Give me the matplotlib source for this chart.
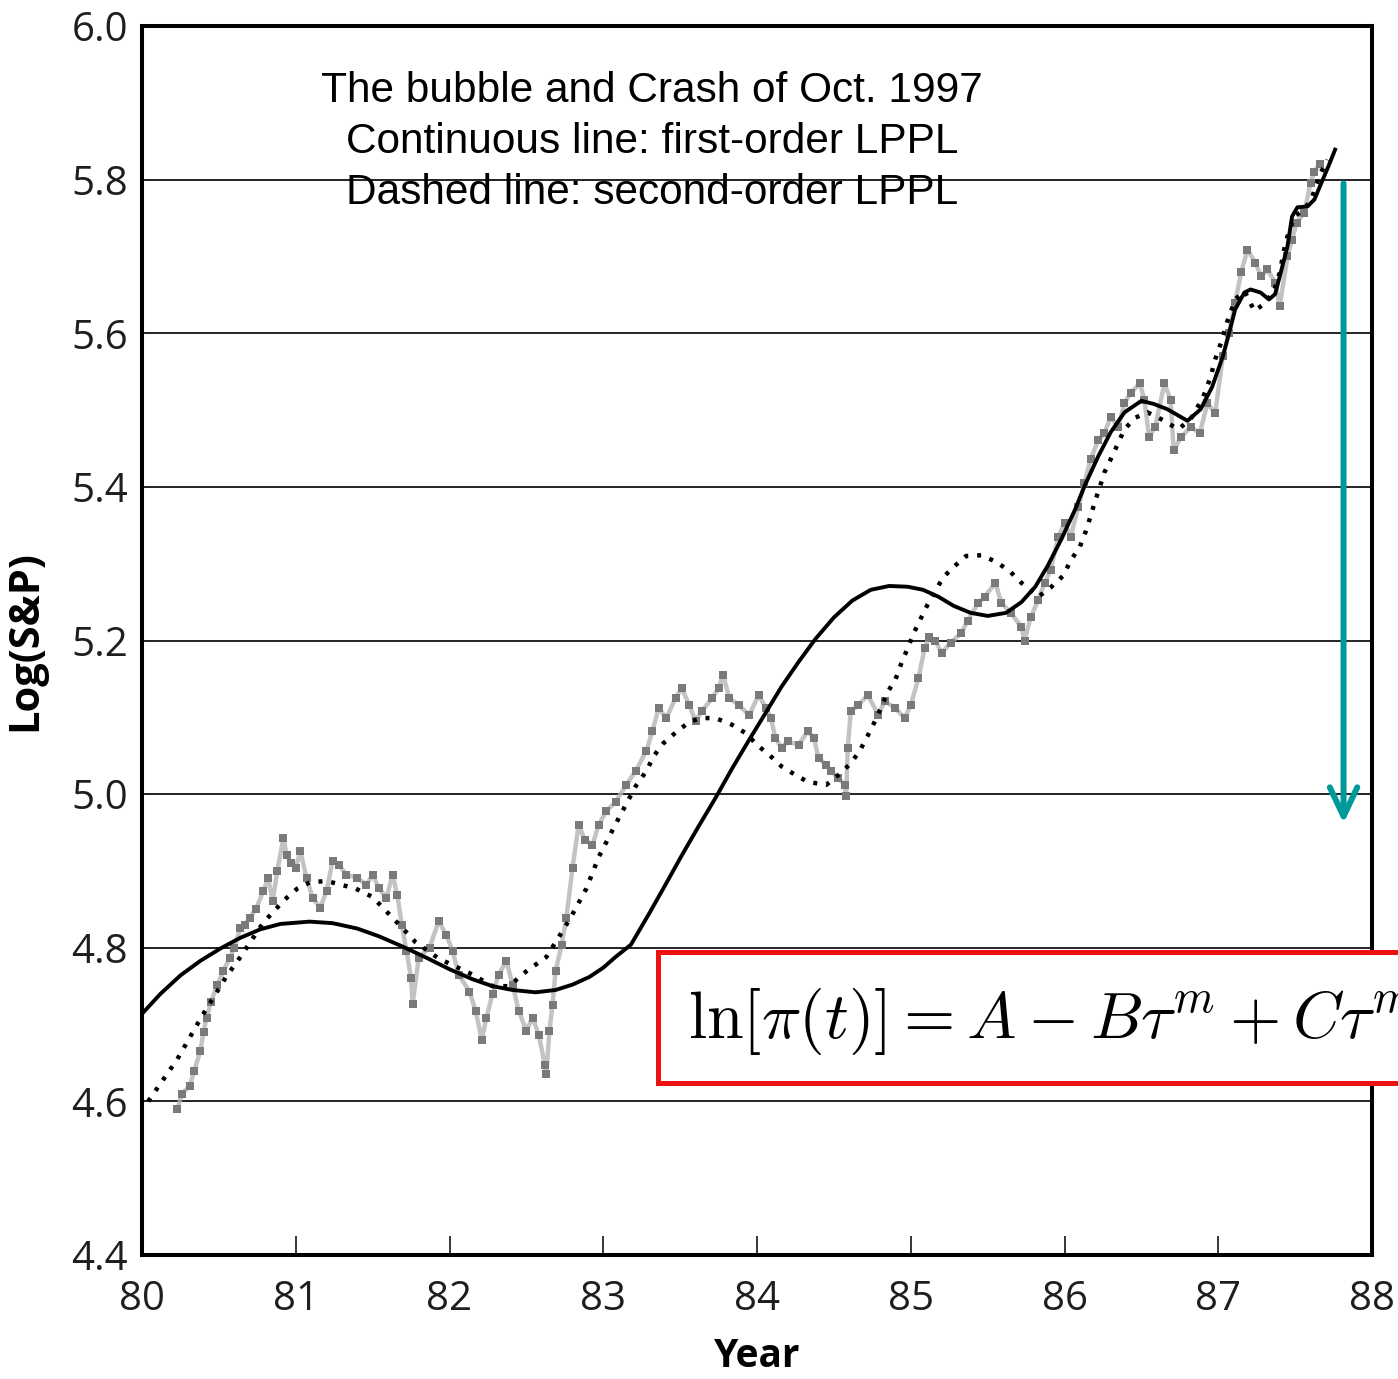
import matplotlib
matplotlib.use('Agg')
import matplotlib.pyplot as plt
from matplotlib.patches import Rectangle

# daily S&P 500 (log), read as year / value pairs
sp_year = [80.23, 80.26, 80.31, 80.34, 80.38, 80.40, 80.42, 80.45, 80.49, 80.53,
           80.57, 80.60, 80.64, 80.67, 80.70, 80.74, 80.79, 80.82, 80.85, 80.88,
           80.92, 80.94, 80.97, 81.00, 81.03, 81.07, 81.11, 81.16, 81.20, 81.24,
           81.28, 81.33, 81.40, 81.46, 81.50, 81.54, 81.59, 81.63, 81.66, 81.69,
           81.72, 81.75, 81.76, 81.80, 81.87, 81.93, 81.98, 82.02, 82.06, 82.13,
           82.17, 82.21, 82.24, 82.28, 82.32, 82.37, 82.41, 82.45, 82.50, 82.54,
           82.58, 82.62, 82.63, 82.65, 82.67, 82.69, 82.73, 82.76, 82.80, 82.84,
           82.88, 82.93, 82.97, 83.02, 83.08, 83.15, 83.21, 83.28, 83.32, 83.36,
           83.41, 83.47, 83.51, 83.56, 83.60, 83.64, 83.71, 83.75, 83.78, 83.82,
           83.88, 83.95, 84.01, 84.06, 84.09, 84.12, 84.16, 84.20, 84.27, 84.33,
           84.37, 84.40, 84.45, 84.48, 84.53, 84.57, 84.58, 84.59, 84.61, 84.66,
           84.72, 84.79, 84.83, 84.90, 84.96, 85.00, 85.05, 85.09, 85.12, 85.16,
           85.20, 85.26, 85.33, 85.37, 85.44, 85.48, 85.55, 85.59, 85.65, 85.72,
           85.74, 85.78, 85.83, 85.87, 85.91, 85.96, 86.00, 86.04, 86.09, 86.13,
           86.17, 86.22, 86.26, 86.30, 86.35, 86.39, 86.43, 86.49, 86.52, 86.55,
           86.59, 86.65, 86.69, 86.71, 86.76, 86.82, 86.88, 86.93, 86.98, 87.03,
           87.07, 87.11, 87.15, 87.19, 87.24, 87.28, 87.32, 87.37, 87.40, 87.45,
           87.48, 87.51, 87.56, 87.60, 87.625, 87.66]
sp_log = [4.590, 4.610, 4.620, 4.640, 4.666, 4.690, 4.709, 4.730, 4.752, 4.770,
          4.787, 4.800, 4.826, 4.830, 4.839, 4.850, 4.874, 4.891, 4.861, 4.900,
          4.943, 4.921, 4.910, 4.904, 4.926, 4.891, 4.865, 4.852, 4.874, 4.913,
          4.908, 4.895, 4.891, 4.882, 4.895, 4.878, 4.865, 4.895, 4.869, 4.830,
          4.796, 4.761, 4.727, 4.787, 4.800, 4.835, 4.816, 4.796, 4.765, 4.743,
          4.718, 4.680, 4.709, 4.740, 4.765, 4.783, 4.752, 4.718, 4.692, 4.709,
          4.687, 4.648, 4.635, 4.692, 4.726, 4.770, 4.804, 4.839, 4.904, 4.960,
          4.940, 4.934, 4.960, 4.978, 4.990, 5.012, 5.030, 5.056, 5.082, 5.112,
          5.099, 5.125, 5.138, 5.116, 5.095, 5.108, 5.125, 5.138, 5.155, 5.125,
          5.116, 5.103, 5.129, 5.112, 5.099, 5.073, 5.060, 5.069, 5.064, 5.082,
          5.073, 5.047, 5.038, 5.030, 5.021, 5.012, 4.997, 5.060, 5.108, 5.116,
          5.129, 5.103, 5.121, 5.112, 5.099, 5.116, 5.151, 5.190, 5.205, 5.200,
          5.184, 5.197, 5.210, 5.226, 5.249, 5.257, 5.275, 5.249, 5.236, 5.218,
          5.200, 5.230, 5.253, 5.275, 5.292, 5.335, 5.353, 5.335, 5.374, 5.405,
          5.436, 5.461, 5.470, 5.491, 5.478, 5.509, 5.522, 5.535, 5.513, 5.465,
          5.478, 5.535, 5.513, 5.448, 5.465, 5.478, 5.470, 5.509, 5.496, 5.570,
          5.600, 5.640, 5.680, 5.709, 5.692, 5.674, 5.683, 5.666, 5.635, 5.700,
          5.722, 5.744, 5.757, 5.796, 5.810, 5.820]

# first-order LPPL fit (continuous line)
fit1_year = [80.00, 80.12, 80.25, 80.38, 80.51, 80.64, 80.77, 80.90, 81.09, 81.24,
             81.40, 81.54, 81.69, 81.85, 82.00, 82.15, 82.28, 82.41, 82.56, 82.69,
             82.80, 82.91, 83.00, 83.08, 83.18, 83.30, 83.41, 83.51, 83.62, 83.73,
             83.84, 83.95, 84.06, 84.16, 84.27, 84.38, 84.50, 84.62, 84.74, 84.86,
             84.98, 85.08, 85.18, 85.28, 85.39, 85.50, 85.62, 85.72, 85.81, 85.89,
             85.98, 86.07, 86.13, 86.22, 86.30, 86.39, 86.50, 86.58, 86.67, 86.80,
             86.885, 86.96, 87.03, 87.07, 87.11, 87.17, 87.21, 87.275, 87.33, 87.37,
             87.40, 87.45, 87.48, 87.515, 87.58, 87.625, 87.665, 87.72, 87.76]
fit1_log = [4.714, 4.740, 4.764, 4.783, 4.799, 4.813, 4.824, 4.831, 4.834, 4.832,
            4.825, 4.815, 4.802, 4.787, 4.772, 4.759, 4.750, 4.745, 4.742, 4.745,
            4.752, 4.762, 4.774, 4.788, 4.804, 4.845, 4.884, 4.920, 4.958, 4.995,
            5.034, 5.071, 5.107, 5.140, 5.172, 5.202, 5.230, 5.252, 5.266, 5.271,
            5.270, 5.266, 5.257, 5.245, 5.236, 5.232, 5.236, 5.250, 5.270, 5.297,
            5.332, 5.371, 5.401, 5.440, 5.471, 5.497, 5.512, 5.508, 5.501, 5.486,
            5.501, 5.530, 5.570, 5.600, 5.631, 5.653, 5.657, 5.653, 5.644, 5.651,
            5.674, 5.713, 5.752, 5.764, 5.765, 5.774, 5.793, 5.819, 5.839]

# second-order LPPL fit (dotted line)
fit2_year = [80.04, 80.23, 80.39, 80.55, 80.64, 80.79, 80.93, 81.01, 81.09, 81.20,
             81.39, 81.50, 81.63, 81.72, 81.78, 81.93, 82.15, 82.28, 82.39, 82.47,
             82.63, 82.73, 82.79, 82.89, 82.97, 83.07, 83.21, 83.28, 83.33, 83.39,
             83.47, 83.56, 83.64, 83.73, 83.84, 83.93, 84.00, 84.08, 84.16, 84.25,
             84.33, 84.45, 84.53, 84.61, 84.67, 84.72, 84.77, 84.81, 84.85, 84.90,
             84.94, 84.98, 85.02, 85.11, 85.21, 85.28, 85.36, 85.46, 85.56, 85.65,
             85.72, 85.83, 85.91, 85.99, 86.04, 86.10, 86.14, 86.17, 86.20, 86.23,
             86.26, 86.31, 86.39, 86.46, 86.54, 86.63, 86.74, 86.82, 86.90, 86.95,
             86.98, 87.015, 87.06, 87.11, 87.17, 87.235, 87.31, 87.365, 87.40, 87.42,
             87.44, 87.495, 87.56, 87.61, 87.66, 87.71]
fit2_log = [4.600, 4.655, 4.711, 4.763, 4.788, 4.833, 4.863, 4.877, 4.885, 4.887,
            4.877, 4.866, 4.839, 4.820, 4.807, 4.786, 4.765, 4.750, 4.750, 4.765,
            4.788, 4.820, 4.840, 4.877, 4.918, 4.957, 5.010, 5.030, 5.050, 5.066,
            5.080, 5.094, 5.099, 5.099, 5.090, 5.079, 5.064, 5.051, 5.036, 5.025,
            5.016, 5.012, 5.025, 5.040, 5.057, 5.076, 5.096, 5.114, 5.133, 5.149,
            5.171, 5.190, 5.210, 5.247, 5.282, 5.296, 5.310, 5.311, 5.302, 5.289,
            5.275, 5.257, 5.269, 5.284, 5.304, 5.322, 5.343, 5.362, 5.382, 5.400,
            5.419, 5.440, 5.475, 5.490, 5.497, 5.488, 5.475, 5.488, 5.516, 5.543,
            5.566, 5.586, 5.616, 5.644, 5.655, 5.629, 5.640, 5.657, 5.679, 5.700,
            5.720, 5.752, 5.761, 5.777, 5.806, 5.826]

x_ticks = [80, 81, 82, 83, 84, 85, 86, 87, 88]
y_ticks = [4.4, 4.6, 4.8, 5.0, 5.2, 5.4, 5.6, 5.8, 6.0]

# crash arrow: from the peak level down to the post-crash level
arrow_year = 87.815
arrow_top = 5.795
arrow_bottom = 4.962

title_lines = ["The bubble and Crash of Oct. 1997",
               "Continuous line: first-order LPPL",
               "Dashed line: second-order LPPL"]
equation = r"$\ln[\pi(t)] = A - B\tau^m + C\tau^m$"


def main():
    plt.rcParams['mathtext.fontset'] = 'cm'
    fig = plt.figure(figsize=(13.98, 13.79), dpi=100)
    ax = fig.add_axes([142 / 1398, 124 / 1379, 1230 / 1398, 1229 / 1379])

    # price trace: soft grey band under square dots
    ax.plot(sp_year, sp_log, color='#b4b4b4', linewidth=3.2, alpha=0.8,
            solid_joinstyle='round', zorder=2)
    ax.plot(sp_year, sp_log, linestyle='none', marker='s', markersize=5.2,
            markeredgewidth=0, color='#7a7a7a', zorder=2)
    ax.plot(fit1_year, fit1_log, color='black', linewidth=2.8, zorder=4)
    ax.plot(fit2_year, fit2_log, color='black', linewidth=3.2,
            linestyle=(0, (0.9, 2.0)), zorder=3)

    ax.annotate('', xy=(arrow_year, arrow_bottom), xytext=(arrow_year, arrow_top),
                arrowprops=dict(arrowstyle='->, head_length=0.95, head_width=0.45',
                                mutation_scale=22, color='#009999', linewidth=4.3,
                                shrinkA=0, shrinkB=0),
                zorder=5)

    ax.set_xlim(80, 88)
    ax.set_ylim(4.4, 6.0)
    ax.set_xticks(x_ticks)
    ax.set_yticks(y_ticks)
    ax.set_xticklabels([str(t) for t in x_ticks])
    ax.set_yticklabels([f"{t:.1f}" for t in y_ticks])
    ax.yaxis.grid(True, color='#222222', linewidth=1.4)
    ax.set_axisbelow(True)

    for lab in ax.get_xticklabels() + ax.get_yticklabels():
        lab.set_fontfamily('Open Sans')
        lab.set_fontsize(29)
        lab.set_color('#1e1e1e')
    ax.tick_params(axis='x', direction='in', length=14, width=1.1, pad=18,
                   top=False)
    ax.tick_params(axis='y', length=0, pad=10)

    for spine in ax.spines.values():
        spine.set_linewidth(2.9)
        spine.set_color('black')

    ax.set_xlabel("Year", fontsize=28, fontweight='bold', family='Open Sans',
                  va='baseline')
    ax.set_ylabel("Log(S&P)", fontsize=30, fontweight='bold', family='Open Sans')
    ax.xaxis.set_label_coords(0.5, -0.091)
    ax.yaxis.set_label_coords(-0.078, 0.5)

    # caption block at the top of the plot
    for line, base in zip(title_lines, [102, 153, 204]):
        fig.text(652 / 1398, 1 - base / 1379, line, ha='center', va='baseline',
                 fontsize=30.5, family='Liberation Sans', color='black')

    # boxed LPPL formula, running off the right edge
    box = Rectangle((658 / 1398, 1 - 1083 / 1379), 0.6, 131 / 1379,
                    transform=fig.transFigure, facecolor='white',
                    edgecolor='#ee1111', linewidth=3.6, zorder=5)
    fig.patches.append(box)
    fig.text(688 / 1398, 1 - 1038 / 1379, equation, ha='left', va='baseline',
             fontsize=47.5, color='black', zorder=6)

    fig.savefig("out.png", dpi=100)


if __name__ == "__main__":
    main()
